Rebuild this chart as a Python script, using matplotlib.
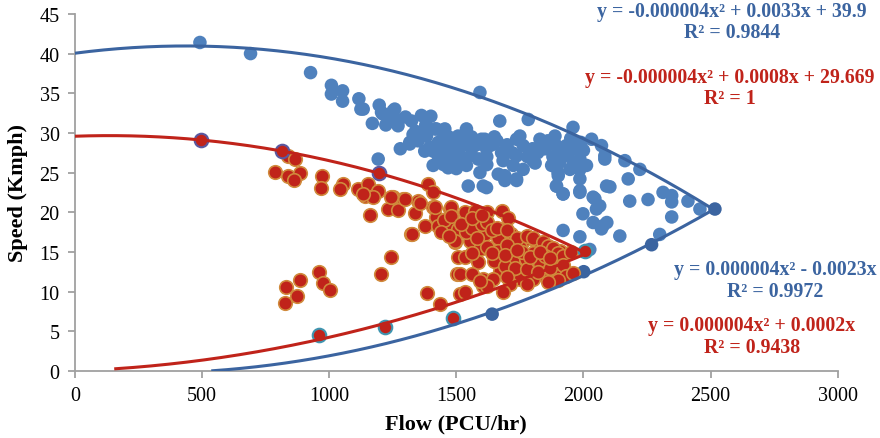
import numpy as np
import matplotlib.pyplot as plt

# 전체 블루 데이터 (Flow, Speed)
blue_x = [492, 691, 927, 1009, 1053, 1009, 1053, 1117, 1125, 1197, 1210, 1252, 1265, 1223, 1324,
          1363, 1317, 1383, 1422, 1455, 1409, 1409, 1468, 1193, 1134, 1206, 1258, 1271, 1317,
          1330, 1363, 1416, 1448, 1396, 1376, 1429, 1481, 1507, 1534, 1455, 1494, 1521, 1560,
          1540, 1586, 1599, 1547, 1606, 1593, 1612, 1619, 1593, 1593, 1678, 1684, 1737, 1750,
          1763, 1737, 1724, 1763, 1802, 1829, 1855, 1888, 1894, 1875, 1907, 1933, 1940, 1973,
          1986, 2012, 1947, 1986, 1901, 1894, 1920, 1986, 1986, 2038, 1665, 1691, 1737, 1619,
          2091, 1671, 1783, 1959, 2032, 2084, 2071, 2084, 2163, 2222, 2176, 2104, 2182, 2254,
          2313, 2347, 2347, 2411, 2458, 2347, 2092, 2071, 2143, 2300, 2064, 1691, 1737, 1894,
          1920, 1986, 2045, 2051, 1998, 2038, 1920, 1986, 2025, 2077, 1440, 1460, 1500, 1480,
          1520, 1560, 1450, 1500, 1620, 1640, 1660, 1700, 1720, 1800, 1820, 1840, 1860, 1880,
          1920, 1950, 1990, 2000, 1540, 1560, 1440, 1340, 1380, 1300, 1350, 1430, 1470, 1510,
          1580, 1620, 1650, 1780, 1810, 1850, 1900, 1960, 1280, 1240, 1170, 1400, 1530, 1600]
blue_y = [41.4, 40.0, 37.6, 36.0, 35.3, 34.9, 34.0, 34.3, 33.0, 33.5, 32.4, 32.8, 31.7, 31.0, 31.5,
          32.2, 28.8, 29.6, 30.5, 30.5, 27.7, 25.9, 25.6, 26.7, 33.0, 32.6, 33.0, 30.9, 28.6,
          29.8, 29.6, 30.5, 30.3, 28.2, 27.7, 28.8, 29.2, 29.6, 29.2, 27.7, 27.5, 28.4, 28.0,
          25.9, 26.7, 29.2, 23.3, 23.3, 35.1, 29.2, 28.0, 26.7, 25.0, 27.5, 26.5, 29.2, 29.6,
          28.4, 27.1, 25.9, 25.4, 26.5, 29.2, 28.8, 29.6, 28.4, 25.9, 26.3, 28.4, 27.1, 28.0,
          26.7, 25.9, 25.4, 25.4, 24.6, 23.3, 22.3, 24.2, 22.7, 21.9, 24.8, 24.6, 24.2, 23.1,
          23.3, 31.5, 31.7, 30.7, 29.2, 27.1, 28.4, 26.7, 26.5, 25.4, 24.2, 23.2, 21.4, 21.6,
          22.5, 22.1, 21.3, 21.4, 20.4, 19.4, 18.7, 17.9, 17.0, 17.2, 20.8, 24.0, 24.0, 23.3,
          22.3, 22.5, 21.7, 20.4, 19.8, 18.7, 17.7, 16.9, 15.3, 18.3, 27.5, 28.5, 28.0, 26.5,
          27.0, 27.2, 26.0, 25.5, 26.0, 28.5, 29.0, 28.5, 27.5, 28.0, 27.5, 28.0, 29.0, 27.0,
          27.5, 29.3, 28.8, 27.8, 30.5, 29.5, 29.0, 30.2, 31.0, 32.0, 29.0, 27.0, 29.5, 27.0,
          28.5, 27.0, 29.5, 27.0, 26.2, 28.0, 25.0, 26.0, 28.0, 31.5, 31.2, 32.1, 26.8, 28.8]

# 블루 하한 경계점 (진한 파랑)
blue_low_x = [1641, 2001, 2268, 2517]
blue_low_y = [7.15, 12.5, 15.9, 20.4]

# 블루 상한 경계점 (위쪽 포락선)
blue_up_x = [492, 691, 1593, 1783, 1959, 2032, 2084, 2222, 2517]
blue_up_y = [41.4, 40.0, 35.1, 31.7, 30.7, 29.2, 27.1, 25.4, 20.4]

# 전체 레드 데이터
red_x = [839, 865, 786, 839, 885, 862, 973, 970, 1055, 1042, 1114, 1153, 1140, 1193, 1173, 1252,
         1291, 1350, 1389, 1409, 1160, 1232, 1271, 1337, 1409, 1422, 1475, 832, 885, 872, 828,
         960, 976, 1003, 1203, 1243, 1383, 1435, 1321, 1357, 1376, 1429, 1494, 1507, 1501, 1514,
         1134, 1245, 1298, 1416, 1481, 1534, 1573, 1468, 1507, 1494, 1553, 1573, 1593, 1534,
         1586, 1324, 1514, 1560, 1606, 1534, 1606, 1619, 1678, 1704, 1612, 1665, 1717, 1763,
         1816, 1868, 1907, 1619, 1665, 1704, 1750, 1724, 1776, 1829, 1881, 1888, 1848, 1802,
         1750, 1711, 1671, 1645, 1619, 1684, 1593, 1907, 1540, 1560, 1600, 1620, 1640, 1660,
         1700, 1740, 1780, 1800, 1840, 1860, 1880, 1900, 1920, 1850, 1800, 1760, 1700, 1650,
         1690, 1730, 1780, 1820, 1870, 1920, 1930, 1900, 1860, 1780, 1700, 1560, 1580, 1450,
         1480, 1520, 1560, 1600, 1440, 1470, 1640, 1690, 1740, 1790, 1830, 1870, 1950, 1960]
red_y = [27.1, 26.7, 25.1, 24.6, 24.9, 24.0, 24.6, 23.1, 23.5, 22.9, 22.9, 23.5, 22.1, 22.7, 21.9, 21.9,
         21.7, 21.4, 23.5, 22.5, 19.6, 20.4, 20.3, 19.9, 20.6, 19.4, 20.4, 10.6, 11.4, 9.4, 8.5,
         12.4, 11.1, 10.2, 12.2, 14.3, 9.8, 8.4, 17.2, 21.2, 18.3, 18.3, 16.2, 14.3, 12.2, 9.7,
         22.3, 21.9, 21.7, 20.6, 20.6, 20.0, 20.2, 18.7, 17.9, 16.4, 16.4, 17.5, 15.3, 14.3,
         13.7, 17.2, 12.2, 12.2, 11.6, 9.9, 10.7, 20.0, 20.2, 19.3, 17.2, 16.8, 17.2, 16.4,
         16.0, 15.3, 15.1, 15.6, 15.1, 15.3, 15.6, 14.1, 14.1, 13.5, 13.7, 12.6, 12.0, 11.6,
         11.6, 10.9, 12.6, 11.6, 10.7, 9.9, 11.3, 13.9, 17.5, 18.0, 18.5, 18.8, 17.8, 18.0,
         17.8, 16.8, 17.0, 16.7, 16.2, 15.8, 15.5, 14.8, 14.5, 14.5, 14.8, 15.0, 15.9, 13.8,
         13.2, 13.0, 12.8, 12.5, 13.0, 13.4, 12.0, 11.5, 11.2, 11.0, 11.8, 14.8, 16.8, 19.0,
         19.5, 18.5, 19.3, 19.7, 17.5, 17.0, 14.8, 14.6, 15.2, 14.4, 15.0, 14.2, 15.0, 12.3]

# 레드 상한 경계점
red_up_x = [498, 816, 1197]
red_up_y = [29.1, 27.7, 24.9]
# 레드 하한 경계점 (아래쪽 포락선)
red_low_x = [961, 1219, 1435, 1684, 2005]
red_low_y = [4.5, 5.5, 8.4, 9.9, 15.1]
# 청록 테두리 점
teal_x = [961, 1219, 1488, 2005]
teal_y = [4.5, 5.5, 6.7, 15.1]

BLUE = '#4f81bd'
DBLUE = '#3b64a0'
RED = '#c0231a'
ORANGE = '#d08a3c'

plt.rcParams['font.family'] = ['Liberation Serif', 'DejaVu Serif']

fig = plt.figure(figsize=(8.8, 4.39), dpi=100)
ax = fig.add_axes([0.085, 0.153, 0.867, 0.813])

ms = 95
ax.scatter(blue_x, blue_y, s=ms, color=BLUE, edgecolors='none', zorder=2)
ax.scatter(blue_low_x, blue_low_y, s=ms, color=DBLUE, edgecolors='none', zorder=2)
ax.scatter(red_x, red_y, s=ms, color=RED, edgecolors=ORANGE, linewidths=1.2, zorder=3)
ax.scatter(red_up_x, red_up_y, s=ms, color=RED, edgecolors='#5a58a0', linewidths=1.5, zorder=3)
ax.scatter(teal_x, teal_y, s=ms, color=RED, edgecolors='#3f95b0', linewidths=1.5, zorder=3)


def fit2(x, y, zero=False):
    x = np.asarray(x, float)
    y = np.asarray(y, float)
    if zero:
        A = np.column_stack([x ** 2, x])
        a, b = np.linalg.lstsq(A, y, rcond=None)[0]
        return np.array([a, b, 0.0])
    return np.polyfit(x, y, 2)


# 추세선 (2차 다항식)
for xs, ys, zero, x0, x1, c in [
        (blue_up_x, blue_up_y, False, 0, 2517, DBLUE),
        (blue_low_x, blue_low_y, True, 0, 2517, DBLUE),
        (red_up_x, red_up_y, False, 0, 2005, RED),
        (red_low_x, red_low_y, True, 161, 2005, RED)]:
    p = fit2(xs, ys, zero)
    xx = np.linspace(x0, x1, 400)
    yy = np.polyval(p, xx)
    yy[yy < 0] = np.nan
    ax.plot(xx, yy, color=c, lw=2.2, zorder=4)

ax.set_xlim(0, 3000)
ax.set_ylim(0, 45)
ax.set_xticks(range(0, 3001, 500))
ax.set_yticks(range(0, 46, 5))
for s in ['top', 'right']:
    ax.spines[s].set_visible(False)
for s in ['left', 'bottom']:
    ax.spines[s].set_color('#a0a0a0')
    ax.spines[s].set_linewidth(1.3)
ax.tick_params(direction='out', length=5, width=1.3, color='#a0a0a0', labelsize=14.5, pad=6)

ax.set_xlabel('Flow (PCU/hr)', fontsize=16, fontweight='bold', labelpad=6)
ax.set_ylabel('Speed (Kmph)', fontsize=16, fontweight='bold', labelpad=8)

tk = dict(fontsize=14.3, fontweight='bold', ha='center', va='center', transform=fig.transFigure)
fig.text(732 / 880, 1 - 12 / 439, 'y = -0.000004x² + 0.0033x + 39.9', color=DBLUE, **tk)
fig.text(732 / 880, 1 - 33 / 439, 'R² = 0.9844', color=DBLUE, **tk)
fig.text(730 / 880, 1 - 78 / 439, 'y = -0.000004x² + 0.0008x + 29.669', color=RED, **tk)
fig.text(730 / 880, 1 - 99 / 439, 'R² = 1', color=RED, **tk)
fig.text(775 / 880, 1 - 270 / 439, 'y = 0.000004x² - 0.0023x', color=DBLUE, **tk)
fig.text(775 / 880, 1 - 292 / 439, 'R² = 0.9972', color=DBLUE, **tk)
fig.text(752 / 880, 1 - 326 / 439, 'y = 0.000004x² + 0.0002x', color=RED, **tk)
fig.text(752 / 880, 1 - 348 / 439, 'R² = 0.9438', color=RED, **tk)

fig.savefig('out.png', dpi=100)
